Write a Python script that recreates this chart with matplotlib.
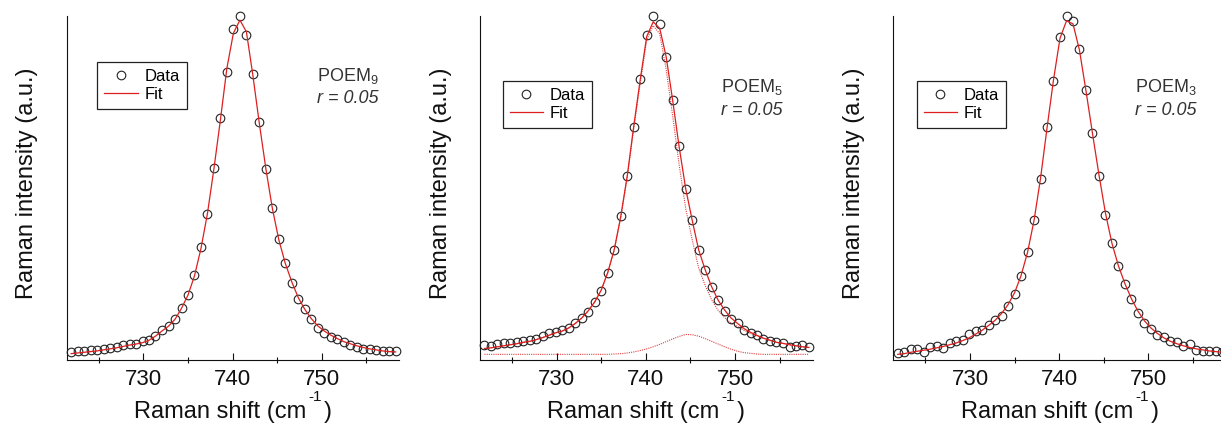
import matplotlib
matplotlib.use("Agg")
import matplotlib.pyplot as plt
from matplotlib.ticker import MultipleLocator

plt.rcParams['font.family'] = ['Liberation Sans', 'DejaVu Sans']
plt.rcParams['mathtext.fontset'] = 'custom'
plt.rcParams['mathtext.rm'] = 'Liberation Sans'
plt.rcParams['mathtext.it'] = 'Liberation Sans:italic'
plt.rcParams['mathtext.bf'] = 'Liberation Sans:bold'

# Raman shift grid (cm^-1)
shift = [721.90, 722.63, 723.36, 724.08, 724.81, 725.54, 726.27, 727.00, 727.72, 728.45,
         729.18, 729.91, 730.64, 731.36, 732.09, 732.82, 733.55, 734.28, 735.00, 735.73,
         736.46, 737.19, 737.92, 738.64, 739.37, 740.10, 740.83, 741.56, 742.28, 743.01,
         743.74, 744.47, 745.20, 745.92, 746.65, 747.38, 748.11, 748.84, 749.56, 750.29,
         751.02, 751.75, 752.48, 753.20, 753.93, 754.66, 755.39, 756.12, 756.84, 757.57,
         758.30]

# POEM9
data_9 = [0.022, 0.024, 0.025, 0.027, 0.028, 0.030, 0.034, 0.037, 0.041, 0.045,
          0.044, 0.053, 0.058, 0.068, 0.085, 0.097, 0.119, 0.151, 0.189, 0.245,
          0.328, 0.425, 0.558, 0.704, 0.838, 0.961, 1.000, 0.946, 0.831, 0.692,
          0.556, 0.440, 0.352, 0.282, 0.223, 0.176, 0.146, 0.119, 0.092, 0.078,
          0.066, 0.059, 0.051, 0.042, 0.037, 0.032, 0.031, 0.027, 0.025, 0.024,
          0.024]
fit_9 = [0.017, 0.019, 0.021, 0.023, 0.025, 0.028, 0.031, 0.034, 0.038, 0.042,
         0.045, 0.049, 0.056, 0.068, 0.083, 0.097, 0.117, 0.149, 0.187, 0.243,
         0.323, 0.425, 0.556, 0.697, 0.848, 0.950, 0.988, 0.954, 0.828, 0.687,
         0.556, 0.440, 0.348, 0.280, 0.226, 0.180, 0.146, 0.119, 0.098, 0.083,
         0.071, 0.061, 0.052, 0.046, 0.040, 0.035, 0.031, 0.028, 0.025, 0.023,
         0.022]

# POEM5
data_5 = [0.042, 0.040, 0.044, 0.047, 0.049, 0.050, 0.054, 0.056, 0.061, 0.068,
          0.076, 0.081, 0.085, 0.092, 0.105, 0.122, 0.139, 0.168, 0.200, 0.252,
          0.318, 0.417, 0.535, 0.678, 0.817, 0.945, 1.000, 0.977, 0.880, 0.755,
          0.622, 0.496, 0.406, 0.318, 0.262, 0.210, 0.173, 0.142, 0.117, 0.105,
          0.087, 0.076, 0.071, 0.061, 0.054, 0.051, 0.047, 0.037, 0.040, 0.042,
          0.037]
fit_5 = [0.032, 0.034, 0.037, 0.040, 0.043, 0.046, 0.050, 0.053, 0.058, 0.064,
         0.071, 0.078, 0.083, 0.092, 0.105, 0.121, 0.142, 0.168, 0.202, 0.253,
         0.320, 0.416, 0.535, 0.678, 0.814, 0.940, 0.983, 0.964, 0.882, 0.755,
         0.619, 0.498, 0.406, 0.320, 0.262, 0.212, 0.173, 0.144, 0.121, 0.105,
         0.090, 0.079, 0.070, 0.062, 0.056, 0.050, 0.047, 0.043, 0.040, 0.037,
         0.035]
main_5 = [0.032, 0.034, 0.037, 0.040, 0.043, 0.046, 0.050, 0.053, 0.058, 0.064,
          0.071, 0.078, 0.083, 0.092, 0.105, 0.121, 0.142, 0.168, 0.202, 0.253,
          0.319, 0.414, 0.531, 0.671, 0.803, 0.930, 0.972, 0.948, 0.845, 0.710,
          0.567, 0.440, 0.349, 0.267, 0.216, 0.174, 0.143, 0.122, 0.106, 0.096,
          0.085, 0.076, 0.069, 0.062, 0.056, 0.050, 0.047, 0.043, 0.040, 0.037,
          0.035]
minor_5 = [0.015, 0.015, 0.015, 0.015, 0.015, 0.015, 0.015, 0.015, 0.015, 0.015,
           0.015, 0.015, 0.015, 0.015, 0.015, 0.015, 0.015, 0.015, 0.015, 0.015,
           0.016, 0.017, 0.019, 0.022, 0.026, 0.031, 0.037, 0.044, 0.052, 0.060,
           0.067, 0.073, 0.072, 0.068, 0.061, 0.053, 0.045, 0.037, 0.030, 0.024,
           0.020, 0.018, 0.016, 0.015, 0.015, 0.015, 0.015, 0.015, 0.015, 0.015,
           0.015]

# POEM3
data_3 = [0.019, 0.022, 0.032, 0.031, 0.021, 0.035, 0.039, 0.034, 0.048, 0.053,
          0.058, 0.073, 0.082, 0.087, 0.099, 0.114, 0.128, 0.157, 0.192, 0.244,
          0.312, 0.405, 0.526, 0.678, 0.812, 0.940, 1.000, 0.984, 0.904, 0.785,
          0.659, 0.535, 0.422, 0.339, 0.273, 0.221, 0.177, 0.136, 0.107, 0.089,
          0.070, 0.065, 0.053, 0.050, 0.039, 0.044, 0.027, 0.024, 0.024, 0.024,
          0.022]
fit_3 = [0.015, 0.017, 0.021, 0.024, 0.027, 0.030, 0.034, 0.038, 0.043, 0.048,
         0.055, 0.063, 0.074, 0.085, 0.099, 0.114, 0.134, 0.160, 0.194, 0.244,
         0.312, 0.405, 0.528, 0.673, 0.814, 0.935, 0.986, 0.977, 0.901, 0.783,
         0.659, 0.538, 0.426, 0.339, 0.273, 0.221, 0.177, 0.141, 0.113, 0.092,
         0.076, 0.063, 0.053, 0.046, 0.040, 0.035, 0.031, 0.028, 0.025, 0.023,
         0.021]

sample_names = [r'POEM$_9$', r'POEM$_5$', r'POEM$_3$']
r_label = 'r = 0.05'
x_ticks = [730, 740, 750]

RED = '#dd1f1f'
W, H = 1221, 425
fig = plt.figure(figsize=(W / 100, H / 100), dpi=100)
renderer = fig.canvas.get_renderer()

bottom_px, top_px = 359.5, 16
ax_lefts = [66.7, 480.0, 893.3]
ax_width_px = 332.5
legend_pos = [(0.092, 0.866), (0.068, 0.810), (0.070, 0.810)]
text_pos = [(0.752, 0.826), (0.726, 0.793), (0.727, 0.793)]

series = [(data_9, fit_9), (data_5, fit_5), (data_3, fit_3)]


def text_width_px(s, size):
    t = fig.text(0, 0, s, fontsize=size)
    w = t.get_window_extent(renderer=renderer).width
    t.remove()
    return w


def xlabel_pieces(center_px, base_px):
    main, sup, close = 'Raman shift (cm', '-1', ')'
    w1 = text_width_px(main, 17)
    w2 = text_width_px(sup, 11)
    w3 = text_width_px(close, 17)
    gap = 2.0
    total = w1 + gap + w2 + gap + w3
    x0 = center_px - total / 2
    yb = (H - base_px) / H
    kw = dict(va='baseline', ha='left', color='#111111')
    fig.text(x0 / W, yb, main, fontsize=17, **kw)
    fig.text((x0 + w1 + gap) / W, (H - base_px + 17) / H, sup, fontsize=11, **kw)
    fig.text((x0 + w1 + gap + w2 + gap) / W, yb, close, fontsize=17, **kw)


for i, (left_px, (dat, fit)) in enumerate(zip(ax_lefts, series)):
    ax = fig.add_axes([left_px / W, (H - bottom_px) / H, ax_width_px / W,
                       (bottom_px - top_px) / H])
    if i == 1:
        ax.plot(shift, main_5, ls=(0, (1, 1)), lw=0.8, color=RED, alpha=0.85, zorder=2)
        ax.plot(shift, minor_5, ls=(0, (1, 1)), lw=0.8, color=RED, alpha=0.85, zorder=2)
    ax.plot(shift, dat, ls='none', marker='o', ms=6.2, mfc='none', mec='#222222',
            mew=0.8, clip_on=False, zorder=3, label='Data')
    ax.plot(shift, fit, color=RED, lw=0.9, zorder=4, label='Fit')
    ax.set_xlim(721.4, 758.7)
    ax.set_ylim(0, 1.0)
    for s in ['top', 'right']:
        ax.spines[s].set_visible(False)
    for s in ['left', 'bottom']:
        ax.spines[s].set_linewidth(0.8)
        ax.spines[s].set_color('#111111')
    ax.set_yticks([])
    ax.set_xticks(x_ticks)
    ax.xaxis.set_minor_locator(MultipleLocator(5))
    ax.tick_params(axis='x', which='major', direction='in', length=5, width=0.8,
                   pad=6.5, labelsize=16, colors='#111111')
    ax.tick_params(axis='x', which='minor', direction='inout', length=4, width=0.8,
                   colors='#111111')
    xlabel_pieces(left_px + ax_width_px / 2, 418.0)
    ax.text(-0.10, 0.512, 'Raman intensity (a.u.)', transform=ax.transAxes,
            rotation=90, rotation_mode='anchor', ha='center', va='baseline',
            fontsize=17, color='#111111')
    leg = ax.legend(loc='upper left', bbox_to_anchor=legend_pos[i], borderaxespad=0,
                    fontsize=12, frameon=True, fancybox=False, framealpha=1,
                    edgecolor='#222222', numpoints=1, handlelength=2.0,
                    handletextpad=0.4, labelspacing=0.18, borderpad=0.42)
    leg.get_frame().set_linewidth(0.9)
    tx, ty = text_pos[i]
    ax.text(tx, ty, sample_names[i], transform=ax.transAxes, fontsize=13,
            color='#333333', va='center', ha='left')
    ax.text(tx, ty - 0.067, r_label, transform=ax.transAxes, fontsize=13,
            color='#333333', va='center', ha='left', style='italic')

fig.savefig('out.png', dpi=100)
